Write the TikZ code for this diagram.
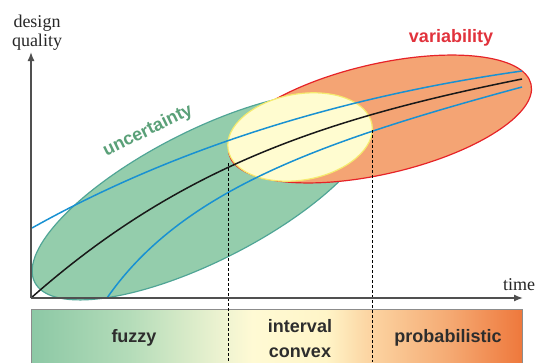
\documentclass[tikz,border=0pt]{standalone}
\usepackage{fontspec}
\setmainfont{Liberation Serif}
\newfontfamily\sansbold{Liberation Sans}
\usetikzlibrary{arrows.meta}
\definecolor{gfill}{RGB}{148,205,172}
\definecolor{gline}{RGB}{80,165,150}
\definecolor{rfill}{RGB}{244,164,116}
\definecolor{rline}{RGB}{230,35,40}
\definecolor{yfill}{RGB}{255,252,208}
\definecolor{yline}{RGB}{245,235,110}
\definecolor{bcurve}{RGB}{25,145,210}
\definecolor{utext}{RGB}{90,160,120}
\definecolor{vtext}{RGB}{225,50,60}
\definecolor{axisc}{RGB}{80,80,80}
\definecolor{bartext}{RGB}{45,45,45}
\definecolor{b0}{RGB}{140,200,165}
\definecolor{b1}{RGB}{180,220,185}
\definecolor{b2}{RGB}{235,242,208}
\definecolor{b3}{RGB}{255,250,212}
\definecolor{b4}{RGB}{255,245,200}
\definecolor{b5}{RGB}{252,215,165}
\definecolor{b6}{RGB}{245,170,115}
\definecolor{b7}{RGB}{238,120,60}
\pgfdeclarehorizontalshading{barshade}{100bp}{color(0bp)=(b0); color(25bp)=(b0); color(35bp)=(b1); color(44bp)=(b2); color(47.5bp)=(b3); color(55bp)=(b4); color(59bp)=(b5); color(67.5bp)=(b6); color(75bp)=(b7); color(100bp)=(b7)}
\begin{document}
\begin{tikzpicture}[x=1pt,y=-1pt,
  sanslbl/.style={font=\sansbold\bfseries\fontsize{18}{20}\selectfont},
  seriflbl/.style={font=\fontsize{18}{20}\selectfont, text=black!85},
  axisline/.style={draw=axisc, line width=1.4pt, -{Latex[length=9pt,width=7pt]}},
  ellbord/.style={line width=1.2pt},
  curveline/.style={line width=1.5pt},
  dashline/.style={draw=black, line width=0.9pt, dash pattern=on 3pt off 2pt},
]
\useasboundingbox (0,0) rectangle (535,362);

% coordinates
\coordinate (O) at (31,298);
\coordinate (ytip) at (31,52);
\coordinate (xtip) at (523,298);
\coordinate (gc) at (204,196);
\coordinate (rc) at (380,119);
\coordinate (yc) at (300,137);

% bar
\node[draw=black!45, line width=0.6pt, shading=barshade, minimum width=491pt, minimum height=54pt, inner sep=0pt, anchor=north west] (bar) at (31,309) {};

% ellipses
\filldraw[fill=gfill, draw=gline, ellbord, rotate around={27:(gc)}] (gc) ellipse [x radius=190pt, y radius=65pt];
\filldraw[fill=rfill, draw=rline, ellbord, rotate around={13:(rc)}] (rc) ellipse [x radius=155pt, y radius=55pt];
\filldraw[fill=yfill, draw=yline, ellbord, rotate around={10:(yc)}] (yc) ellipse [x radius=73pt, y radius=43pt];

% curves
\coordinate (bu0) at (32,228);
\coordinate (bu1) at (522,71);
\coordinate (bl0) at (107,298);
\coordinate (bl1) at (522,87);
\coordinate (k1) at (522,79);
\draw[curveline, draw=bcurve] (bu0) .. controls (182,144) and (352,95) .. (bu1);
\draw[curveline, draw=bcurve] (bl0) .. controls (182,190) and (322,141) .. (bl1);
\draw[curveline, draw=black!90] (O) .. controls (178,168) and (322,119) .. (k1);

% dashed lines
\coordinate (d1t) at (228,163);
\coordinate (d1b) at (228,362);
\coordinate (d2t) at (372,130);
\coordinate (d2b) at (372,362);
\draw[dashline] (d1t) -- (d1b);
\draw[dashline] (d2t) -- (d2b);

% axes
\draw[axisline] (O) -- (ytip);
\draw[axisline] (O) -- (xtip);

% labels
\node[seriflbl, align=center] (dq) at (37,33) {design\\[-1pt]quality};
\node[seriflbl, anchor=base] (time) at (519,290) {time};
\node[sanslbl, text=utext, rotate=26] (unc) at (148,131) {uncertainty};
\node[sanslbl, text=vtext] (var) at (451,38) {variability};
\node[sanslbl, text=bartext, anchor=base] (fz) at (134,342) {fuzzy};
\node[sanslbl, text=bartext, anchor=base] (iv) at (300,332) {interval};
\node[sanslbl, text=bartext, anchor=base] (cv) at (300,357) {convex};
\node[sanslbl, text=bartext, anchor=base] (pr) at (448,342) {probabilistic};
\end{tikzpicture}
\end{document}
